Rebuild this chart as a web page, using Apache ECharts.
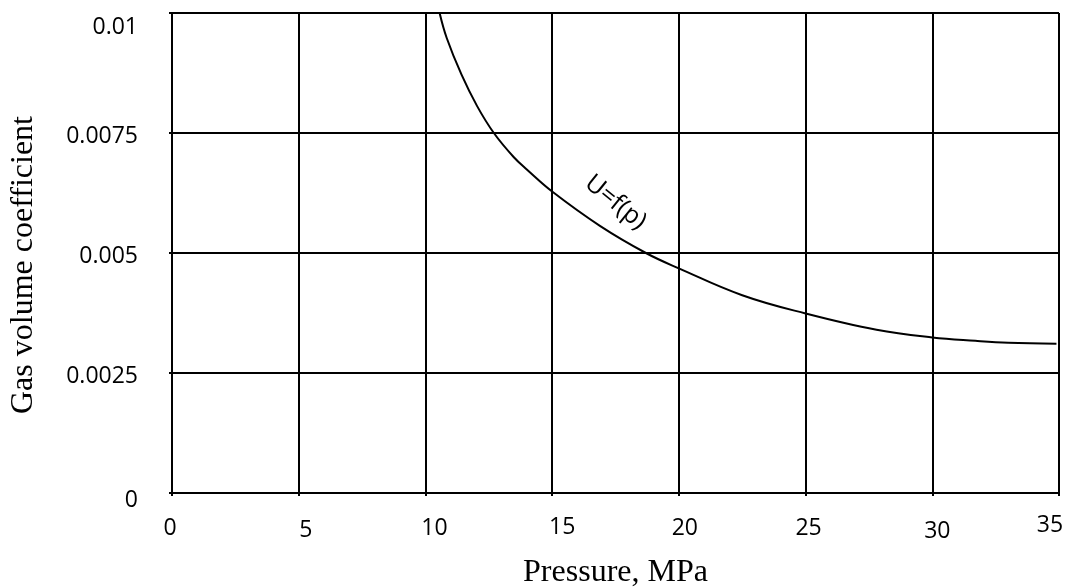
<!DOCTYPE html>
<html>
<head>
<meta charset="utf-8">
<script src="https://cdn.jsdelivr.net/npm/echarts@6/dist/echarts.min.js"></script>
<style>
  html, body { margin: 0; padding: 0; background: #fff; }
  #chart { width: 1067px; height: 588px; }
</style>
</head>
<body>
<div id="chart"></div>
<script>
// 曲线数据
var pressure = [10.56, 10.84, 11.42, 12.04, 12.70, 13.48, 14.0, 15, 16.9, 18.7, 20, 22.5, 25, 27.8, 30, 31.7, 33, 34.9]
var volume = [0.01, 0.00948, 0.00872, 0.00806, 0.0075, 0.007, 0.00674, 0.00628, 0.00556, 0.005, 0.00468, 0.00412, 0.00374, 0.0034, 0.00324, 0.00317, 0.00313, 0.00311]

// 坐标轴
var xTicks = [0, 5, 10, 15, 20, 25, 30, 35]
var yTicks = [0, 0.0025, 0.005, 0.0075, 0.01]
var xName = 'Pressure, MPa'
var yName = 'Gas volume coefficient'

// 曲线标注
var curveLabel = 'U=f(p)'
var curveLabelAt = [17.5, 0.00605]

// 刻度标签的小偏移 (dx, dy)
var xLabelShift = {
  0: [-2, 0], 5: [7, 2], 10: [9, 0], 15: [10, -1],
  20: [6, 0], 25: [3, 0], 30: [5, 3], 35: [-9, -3]
}

var tickFont = 'Open Sans'
var nameFont = 'Liberation Serif'

var points = pressure.map(function (p, i) { return [p, volume[i]] })

var xRich = {}
xTicks.forEach(function (t) {
  var s = xLabelShift[t] || [0, 0]
  xRich['t' + t] = {
    fontFamily: tickFont,
    fontSize: 23,
    color: '#000',
    padding: [4 + s[1], Math.max(0, -s[0] * 2), 0, Math.max(0, s[0] * 2)]
  }
})

var myChart = echarts.init(document.getElementById('chart'))

myChart.setOption({
  animation: false,
  grid: {
    left: 172,
    right: 8,
    top: 13,
    bottom: 95,
    outerBoundsMode: 'none'
  },
  xAxis: {
    type: 'value',
    min: xTicks[0],
    max: xTicks[xTicks.length - 1],
    interval: 5,
    name: xName,
    nameLocation: 'middle',
    nameGap: 64,
    nameTextStyle: {
      fontFamily: nameFont,
      fontSize: 32,
      color: '#000'
    },
    axisLine: { show: true, lineStyle: { color: '#000', width: 2 } },
    axisTick: { show: true, length: 3, lineStyle: { color: '#000', width: 2 } },
    splitLine: { show: true, lineStyle: { color: '#000', width: 2 } },
    axisLabel: {
      margin: 20,
      formatter: function (v) {
        return '{t' + v + '|' + v + '}'
      },
      rich: xRich
    }
  },
  yAxis: {
    type: 'value',
    min: yTicks[0],
    max: yTicks[yTicks.length - 1],
    interval: 0.0025,
    name: yName,
    nameLocation: 'middle',
    nameGap: 132,
    nameTextStyle: {
      fontFamily: nameFont,
      fontSize: 32,
      color: '#000',
      padding: [0, 24, 0, 0]
    },
    axisLine: { show: true, lineStyle: { color: '#000', width: 2 } },
    axisTick: { show: true, length: 3, lineStyle: { color: '#000', width: 2 } },
    splitLine: { show: true, lineStyle: { color: '#000', width: 2 } },
    axisLabel: {
      margin: 34,
      formatter: function (v) {
        var s = String(+v.toFixed(4))
        if (v >= 0.01) return '{top|' + s + '}'
        if (v === 0) return '{low|' + s + '}'
        return '{n|' + s + '}'
      },
      rich: {
        n: { fontFamily: tickFont, fontSize: 23, color: '#000', padding: [6, 0, 0, 0] },
        top: { fontFamily: tickFont, fontSize: 23, color: '#000', padding: [28, 0, 0, 0] },
        low: { fontFamily: tickFont, fontSize: 23, color: '#000', padding: [14, 0, 0, 0] }
      }
    }
  },
  series: [{
    name: curveLabel,
    type: 'line',
    data: points,
    smooth: 0.4,
    symbol: 'none',
    lineStyle: { color: '#000', width: 2 },
    z: 5,
    markPoint: {
      symbol: 'circle',
      symbolSize: 0,
      data: [{ coord: curveLabelAt }],
      label: {
        show: true,
        position: 'inside',
        formatter: curveLabel,
        rotate: -39,
        fontFamily: tickFont,
        fontSize: 25,
        color: '#000'
      }
    }
  }]
})
</script>
</body>
</html>
